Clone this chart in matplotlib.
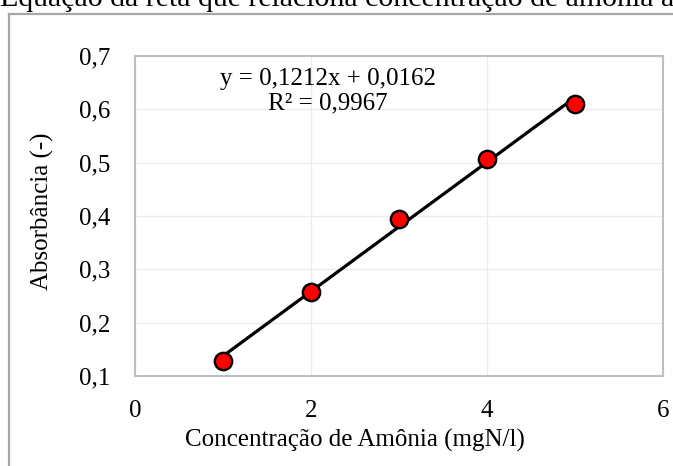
import matplotlib.pyplot as plt
import numpy as np
from matplotlib.lines import Line2D

# Calibration data: ammonia concentration vs absorbance
concentracao = [1, 2, 3, 4, 5]
absorbancia = [0.128, 0.257, 0.394, 0.506, 0.610]
slope = 0.1212
intercept = 0.0162
r2 = 0.9967

x_ticks = [0, 2, 4, 6]
y_ticks = [0.1, 0.2, 0.3, 0.4, 0.5, 0.6, 0.7]

plt.rcParams["font.family"] = ["Liberation Serif", "DejaVu Serif"]
FS = 18

W, H = 673, 466
fig = plt.figure(figsize=(W / 100, H / 100), dpi=100)

# cut-off caption at the very top and the outer chart frame
fig.text(0.0, 1 - 6 / H, "Equação da reta que relaciona concentração de amônia à absorbância",
         fontsize=21.5, ha="left", va="baseline")
frame_kw = dict(color="#a6a6a6", lw=1.6, transform=fig.transFigure)
fig.add_artist(Line2D([9 / W, 9 / W], [0, 1 - 14 / H], **frame_kw))
fig.add_artist(Line2D([9 / W, 1.0], [1 - 14 / H, 1 - 14 / H], **frame_kw))

ax = fig.add_axes([135 / W, (H - 376) / H, (663 - 135) / W, (376 - 56) / H])

xs = np.array([concentracao[0], concentracao[-1]])
ax.plot(xs, slope * xs + intercept, color="black", lw=2.3, zorder=3)
ax.plot(concentracao, absorbancia, "o", ms=12.5, mfc="red", mec="black", mew=1.7, zorder=4)

ax.set_xlim(0, 6)
ax.set_ylim(0.1, 0.7)
ax.set_xticks(x_ticks)
ax.set_yticks(y_ticks)
ax.set_xticklabels([str(t) for t in x_ticks])
ax.set_yticklabels([f"{t:.1f}".replace(".", ",") for t in y_ticks])
ax.tick_params(length=0, labelsize=FS)
ax.tick_params(axis="y", pad=18)
ax.tick_params(axis="x", pad=17)
ax.grid(True, color="#ececec", lw=1)
ax.set_axisbelow(True)
for s in ax.spines.values():
    s.set_color("#bfbfbf")
    s.set_linewidth(1.5)

# axis titles are centred on the (wider) chart area, as in the source chart
ax.set_xlabel("Concentração de Amônia (mgN/l)", fontsize=FS, va="center")
ax.xaxis.set_label_coords(0.417, -0.2)
ax.set_ylabel("Absorbância (-)", fontsize=FS, va="center")
ax.yaxis.set_label_coords(-0.176, 0.516)

eq = f"y = {slope:.4f}x + {intercept:.4f}".replace(".", ",")
r2_txt = f"R² = {r2:.4f}".replace(".", ",")
ax.text(0.365, 0.89, eq + "\n" + r2_txt, transform=ax.transAxes,
        fontsize=FS, ha="center", va="center", linespacing=1.15)

fig.savefig("out.png", dpi=100)
